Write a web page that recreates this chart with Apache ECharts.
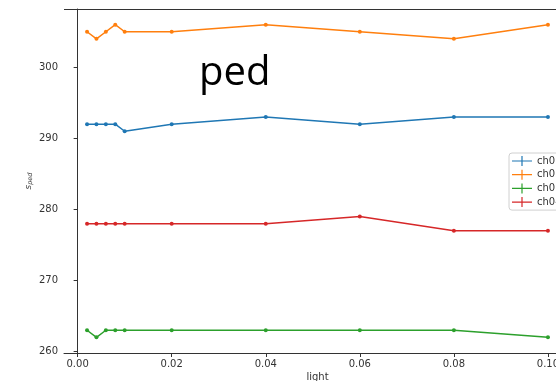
<!DOCTYPE html>
<html>
<head>
<meta charset="utf-8">
<script src="https://cdn.jsdelivr.net/npm/echarts@6/dist/echarts.min.js"></script>
<style>
html,body{margin:0;padding:0;background:#fff;}
#c{width:556px;height:381px;}
</style>
</head>
<body>
<div id="c"></div>
<script>
var lightValues = [0.002, 0.004, 0.006, 0.008, 0.01, 0.02, 0.04, 0.06, 0.08, 0.1];
var ch01 = [292, 292, 292, 292, 291, 292, 293, 292, 293, 293];
var ch02 = [305, 304, 305, 306, 305, 305, 306, 305, 304, 306];
var ch03 = [263, 262, 263, 263, 263, 263, 263, 263, 263, 262];
var ch04 = [278, 278, 278, 278, 278, 278, 278, 279, 277, 277];
var seriesNames = ['ch01', 'ch02', 'ch03', 'ch04'];
var xTicks = [0, 0.02, 0.04, 0.06, 0.08, 0.10];
var yTicks = [260, 270, 280, 290, 300];

var colors = ['#1f77b4', '#ff7f0e', '#2ca02c', '#d62728'];
var allSeries = [ch01, ch02, ch03, ch04];

function pairs(xs, ys) {
  return xs.map(function (x, i) { return [x, ys[i]]; });
}

var chart = echarts.init(document.getElementById('c'), null, {renderer: 'canvas'});
var icon = 'path://M0,4.4h20v1.2h-20z M9.4,0h1.2v10h-1.2z';

chart.setOption({
  animation: false,
  backgroundColor: '#fff',
  color: colors,
  title: {
    text: 'ped',
    left: 194,
    top: 49,
    textStyle: {fontFamily: 'Open Sans', fontSize: 40, fontWeight: 'normal', color: '#000'}
  },
  legend: {
    data: seriesNames.map(function (n) { return {name: n, icon: icon}; }),
    orient: 'vertical',
    left: 509,
    top: 153,
    padding: [3, 6, 3, 3],
    itemWidth: 20,
    itemHeight: 10,
    itemGap: 3.7,
    backgroundColor: '#fff',
    borderColor: '#d0d0d0',
    borderWidth: 1,
    borderRadius: 3,
    textStyle: {fontFamily: 'DejaVu Sans', fontSize: 10, color: '#333'}
  },
  grid: {left: 64, top: 9, width: 507, height: 344, containLabel: false, outerBoundsMode: 'none'},
  xAxis: {
    type: 'value',
    min: -0.0029,
    max: 0.1049,
    name: 'light',
    nameLocation: 'middle',
    nameGap: 19,
    nameMoveOverlap: false,
    nameTextStyle: {fontFamily: 'DejaVu Sans', fontSize: 10, color: '#333'},
    axisLine: {show: true, lineStyle: {color: '#333', width: 1}},
    axisTick: {show: true, length: 4, customValues: xTicks, lineStyle: {color: '#333'}},
    axisLabel: {
      customValues: xTicks, margin: 6,
      fontFamily: 'DejaVu Sans', fontSize: 10, color: '#333',
      formatter: function (v) { return v.toFixed(2); }
    },
    splitLine: {show: false}
  },
  yAxis: {
    type: 'value',
    min: 259.8,
    max: 308.2,
    name: '{s|s}{sub|ped}',
    nameLocation: 'middle',
    nameRotate: 90,
    nameGap: 30,
    nameMoveOverlap: false,
    nameTextStyle: {
      color: '#444',
      rich: {
        s: {fontFamily: 'DejaVu Sans', fontStyle: 'italic', fontSize: 9, color: '#444'},
        sub: {fontFamily: 'DejaVu Sans', fontStyle: 'italic', fontSize: 6.5, color: '#444', padding: [4, 0, 0, 0]}
      }
    },
    axisLine: {show: true, lineStyle: {color: '#333', width: 1}},
    axisTick: {show: true, length: 4, customValues: yTicks, lineStyle: {color: '#333'}},
    axisLabel: {
      customValues: yTicks, margin: 6,
      fontFamily: 'DejaVu Sans', fontSize: 10, color: '#333'
    },
    splitLine: {show: false}
  },
  graphic: [{
    type: 'line',
    shape: {x1: 64, y1: 9.5, x2: 571, y2: 9.5},
    style: {stroke: '#333', lineWidth: 1}
  }],
  series: allSeries.map(function (vals, i) {
    return {
      name: seriesNames[i],
      type: 'line',
      data: pairs(lightValues, vals),
      symbol: 'circle',
      symbolSize: 4,
      showSymbol: true,
      lineStyle: {width: 1.5, color: colors[i]},
      itemStyle: {color: colors[i]}
    };
  })
});
</script>
</body>
</html>
